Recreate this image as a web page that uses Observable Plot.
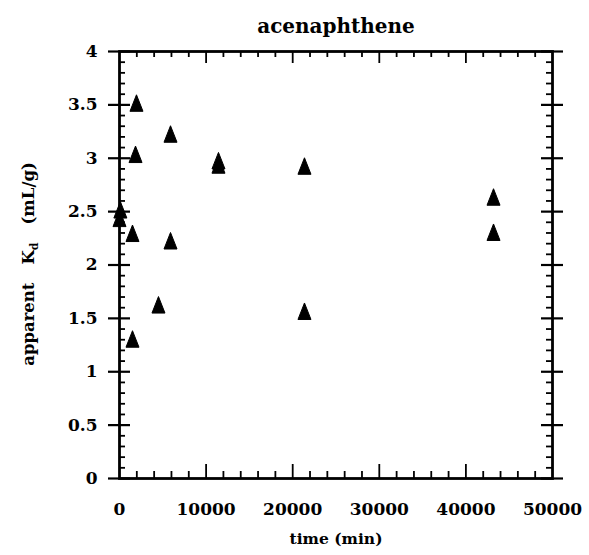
<!DOCTYPE html>
<html><head><meta charset="utf-8">
<script src="https://cdn.jsdelivr.net/npm/d3@7"></script>
<script src="https://cdn.jsdelivr.net/npm/@observablehq/plot@0.6"></script>
<style>body{margin:0;background:#fff}</style>
</head><body><div id="chart"></div>
<script>
// ---- data ----
const times = [0, 100, 1500, 1960, 1850, 5890, 5890, 4500, 1500, 11430, 11430, 21360, 21360, 43190, 43190];
const kd    = [2.43, 2.51, 2.29, 3.51, 3.03, 3.22, 2.22, 1.62, 1.30, 2.97, 2.93, 2.92, 1.56, 2.63, 2.30];
const xTicks = [0, 10000, 20000, 30000, 40000, 50000];
const yTicks = [0, 0.5, 1, 1.5, 2, 2.5, 3, 3.5, 4];
const title = "acenaphthene";
const xLabel = "time (min)";
const yLabelParts = ["apparent", "K", "d", "(mL/g)"];

// ---- layout ----
const W = 589, H = 555, mL = 119, mR = 37, mT = 51, mB = 77;
const pw = W - mL - mR, ph = H - mT - mB;
const FONT = "'DejaVu Serif', 'Liberation Serif', serif";

const data = times.map((t, i) => ({t, kd: kd[i]}));
const xMinor = d3.range(0, 50001, 2000).filter(v => v % 10000 !== 0);
const yMinor = d3.range(1, 40).filter(i => i % 5 !== 0).map(i => i / 10);
const xMajorInner = xTicks.slice(1, -1);

const tri = {draw(ctx) { ctx.moveTo(0, -9); ctx.lineTo(6.5, 7.5); ctx.lineTo(-6.5, 7.5); ctx.closePath(); }};

const chart = Plot.plot({
  width: W, height: H,
  marginLeft: mL, marginRight: mR, marginTop: mT, marginBottom: mB,
  style: {fontFamily: FONT, fontWeight: "bold", fontSize: "17px", color: "black", background: "white"},
  x: {domain: [0, 50000]},
  y: {domain: [0, 4]},
  marks: [
    Plot.frame({stroke: "black", strokeWidth: 2.8}),
    // minor ticks (inward)
    Plot.tickX(xMinor, {x: d => d, insetTop: ph - 7, strokeWidth: 1.8}),
    Plot.tickX(xMinor, {x: d => d, insetBottom: ph - 6, strokeWidth: 1.8}),
    Plot.tickX(xMajorInner, {x: d => d, insetTop: ph - 14, strokeWidth: 1.8}),
    Plot.tickX(xMajorInner, {x: d => d, insetBottom: ph - 12, strokeWidth: 1.8}),
    Plot.tickY(yMinor, {y: d => d, insetRight: pw - 6, strokeWidth: 1.8}),
    Plot.tickY(yMinor, {y: d => d, insetLeft: pw - 6, strokeWidth: 1.8}),
    Plot.tickY(yTicks, {y: d => d, insetLeft: -11, insetRight: pw - 11, strokeWidth: 2.2}),
    Plot.tickY(yTicks, {y: d => d, insetRight: -11, insetLeft: pw - 11, strokeWidth: 2.2}),
    Plot.axisX({ticks: xTicks, tickSize: 0, tickPadding: 24, tickFormat: d3.format("d"), fontSize: 17, label: null}),
    Plot.axisY({ticks: yTicks, tickSize: 0, tickPadding: 22, tickFormat: d => String(d), fontSize: 17, label: null}),
    Plot.dot(data, {x: "t", y: "kd", symbol: tri, fill: "black", stroke: "black", strokeWidth: 1, strokeLinejoin: "round"}),
    Plot.text([title], {text: d => d, frameAnchor: "top", dy: -33, fontSize: 20, fontWeight: "bold"}),
    Plot.text([xLabel], {text: d => d, frameAnchor: "bottom", dy: 65, fontSize: 15.5, fontWeight: "bold"})
  ]
});
document.getElementById("chart").append(chart);

// y-axis label with subscript
const svg = d3.select(chart);
const t = svg.append("text")
  .attr("transform", "translate(34,264) rotate(-90)")
  .attr("text-anchor", "middle")
  .attr("font-family", FONT).attr("font-weight", "bold").attr("font-size", 16.5).attr("fill", "black");
t.append("tspan").text(yLabelParts[0]);
t.append("tspan").attr("dx", 18).text(yLabelParts[1]);
t.append("tspan").attr("dy", 4).attr("font-size", 11).text(yLabelParts[2]);
t.append("tspan").attr("dy", -4).attr("dx", 18).text(yLabelParts[3]);
</script>
</body></html>
